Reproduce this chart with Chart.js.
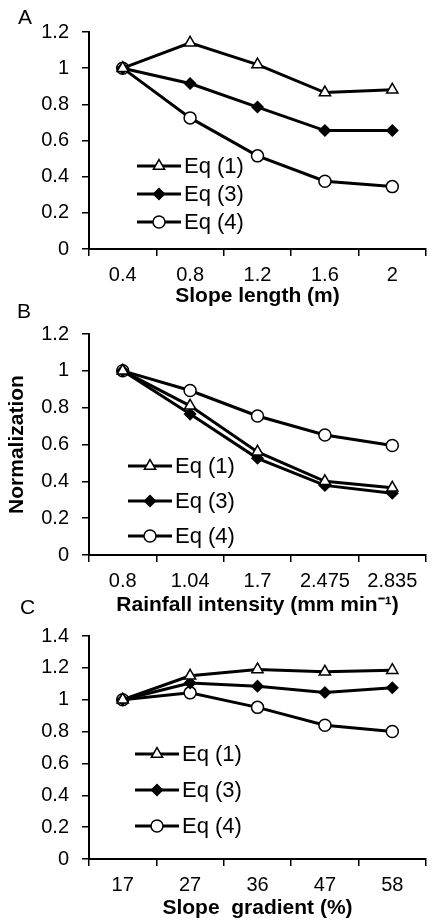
<!DOCTYPE html>
<html lang="en">
<head>
  <meta charset="UTF-8" />
  <title>Normalized erosion vs slope length, rainfall intensity and slope gradient</title>
  <style>
    body {
      margin: 0;
      background: #ffffff;
      width: 434px;
      height: 923px;
      position: relative;
      overflow: hidden;
    }
    canvas {
      position: absolute;
      left: 0;
    }
    #chartA { top: 0; }
    #chartB { top: 300px; }
    #chartC { top: 590px; }
  </style>
</head>
<body>
  <canvas id="chartA" width="434" height="309"></canvas>
  <canvas id="chartB" width="434" height="318"></canvas>
  <canvas id="chartC" width="434" height="331"></canvas>

  <script src="https://cdn.jsdelivr.net/npm/chart.js"></script>
  <script>
    // ---- data ----
    const seriesNames = ['Eq (1)', 'Eq (3)', 'Eq (4)'];

    // A: slope length
    const slopeLengths = ['0.4', '0.8', '1.2', '1.6', '2'];
    const lengthEq1 = [1, 1.14, 1.02, 0.865, 0.88];
    const lengthEq3 = [1, 0.915, 0.785, 0.655, 0.655];
    const lengthEq4 = [1, 0.725, 0.515, 0.375, 0.345];

    // B: rainfall intensity
    const rainIntensities = ['0.8', '1.04', '1.7', '2.475', '2.835'];
    const rainEq1 = [1, 0.81, 0.56, 0.40, 0.365];
    const rainEq3 = [1, 0.765, 0.525, 0.378, 0.335];
    const rainEq4 = [1, 0.893, 0.755, 0.652, 0.595];

    // C: slope gradient
    const slopeGradients = ['17', '27', '36', '47', '58'];
    const gradEq1 = [1, 1.15, 1.19, 1.175, 1.185];
    const gradEq3 = [1, 1.105, 1.085, 1.045, 1.075];
    const gradEq4 = [1, 1.043, 0.952, 0.84, 0.80];

    const FONT = "'Liberation Sans', Arial, sans-serif";
    const INK = '#000000';

    // marker look for each equation
    const markers = [
      { pointStyle: 'triangle', radius: 6.5, fill: '#ffffff' },
      { pointStyle: 'rectRot', radius: 5.5, fill: INK },
      { pointStyle: 'circle', radius: 6, fill: '#ffffff' }
    ];

    function makeDatasets(values) {
      return values.map((v, i) => ({
        label: seriesNames[i],
        data: v,
        borderColor: INK,
        borderWidth: 3,
        pointStyle: markers[i].pointStyle,
        pointRadius: markers[i].radius,
        pointBackgroundColor: markers[i].fill,
        pointBorderColor: INK,
        pointBorderWidth: 1.5,
        tension: 0,
        fill: false
      }));
    }

    // legend drawn inside the plot: line + marker + text
    const eqLegend = {
      id: 'eqLegend',
      afterDatasetsDraw(chart, args, opts) {
        const ctx = chart.ctx;
        ctx.save();
        chart.data.datasets.forEach((ds, i) => {
          const y = opts.y + i * opts.gap;
          ctx.strokeStyle = INK;
          ctx.lineWidth = 3;
          ctx.beginPath();
          ctx.moveTo(opts.x, y);
          ctx.lineTo(opts.x + 44, y);
          ctx.stroke();
          ctx.fillStyle = markers[i].fill;
          ctx.lineWidth = 1.5;
          Chart.helpers.drawPoint(ctx, {
            pointStyle: markers[i].pointStyle,
            radius: markers[i].radius,
            rotation: 0,
            borderWidth: 1.5
          }, opts.x + 22, y);
          ctx.fillStyle = INK;
          ctx.font = '22px ' + FONT;
          ctx.textAlign = 'left';
          ctx.textBaseline = 'middle';
          ctx.fillText(ds.label, opts.x + 47, y + 1);
        });
        ctx.restore();
      }
    };

    // panel letter (A, B, C)
    const panelLetter = {
      id: 'panelLetter',
      afterDraw(chart, args, opts) {
        const ctx = chart.ctx;
        ctx.save();
        ctx.fillStyle = INK;
        ctx.font = '21px ' + FONT;
        ctx.textAlign = 'left';
        ctx.textBaseline = 'middle';
        ctx.fillText(opts.text, opts.x, opts.y);
        ctx.restore();
      }
    };

    function makeChart(id, cfg) {
      const canvas = document.getElementById(id);
      const yTitle = cfg.yTitle
        ? { display: true, text: cfg.yTitle, color: INK, font: { family: FONT, size: 21, weight: 'bold' }, padding: { top: 5, bottom: 0 } }
        : { display: false };

      return new Chart(canvas, {
        type: 'line',
        data: {
          labels: cfg.labels,
          datasets: makeDatasets(cfg.values)
        },
        options: {
          responsive: false,
          devicePixelRatio: 1,
          animation: false,
          layout: { padding: { top: cfg.top, right: 1, left: 0, bottom: 0 } },
          plugins: {
            legend: { display: false },
            tooltip: { enabled: false },
            eqLegend: cfg.legend,
            panelLetter: cfg.letter
          },
          scales: {
            x: {
              offset: true,
              grid: { display: true, offset: true, drawOnChartArea: false, drawTicks: true, tickLength: 7, color: INK, lineWidth: 1.5 },
              border: { display: true, color: INK, width: 2 },
              ticks: { color: INK, padding: 7, maxRotation: 0, autoSkip: false, font: { family: FONT, size: 20 } },
              title: { display: true, text: cfg.xTitle, color: INK, font: { family: FONT, size: 21, weight: 'bold' }, padding: 0 },
              afterFit(scale) { scale.height = canvas.height - cfg.bottom; }
            },
            y: {
              min: 0,
              max: cfg.yMax,
              ticks: {
                stepSize: 0.2,
                color: INK,
                padding: 13,
                font: { family: FONT, size: 20 },
                callback: (v) => String(Math.round(v * 10) / 10)
              },
              grid: { display: true, drawOnChartArea: false, drawTicks: true, tickLength: 7, color: INK, lineWidth: 1.5 },
              border: { display: true, color: INK, width: 2 },
              title: yTitle,
              afterFit(scale) { scale.width = 89; }
            }
          }
        },
        plugins: [eqLegend, panelLetter]
      });
    }

    makeChart('chartA', {
      labels: slopeLengths,
      values: [lengthEq1, lengthEq3, lengthEq4],
      yMax: 1.2,
      top: 32,
      bottom: 249,
      xTitle: 'Slope length (m)',
      legend: { x: 137, y: 166, gap: 28 },
      letter: { text: 'A', x: 18, y: 18 }
    });

    makeChart('chartB', {
      labels: rainIntensities,
      values: [rainEq1, rainEq3, rainEq4],
      yMax: 1.2,
      top: 34,
      bottom: 255,
      xTitle: 'Rainfall intensity (mm min\u207B\u00B9)',
      yTitle: 'Normalization',
      legend: { x: 128, y: 166, gap: 35 },
      letter: { text: 'B', x: 17, y: 12 }
    });

    makeChart('chartC', {
      labels: slopeGradients,
      values: [gradEq1, gradEq3, gradEq4],
      yMax: 1.4,
      top: 46,
      bottom: 269,
      xTitle: 'Slope  gradient (%)',
      legend: { x: 135, y: 164, gap: 36 },
      letter: { text: 'C', x: 20, y: 18 }
    });
  </script>
</body>
</html>
